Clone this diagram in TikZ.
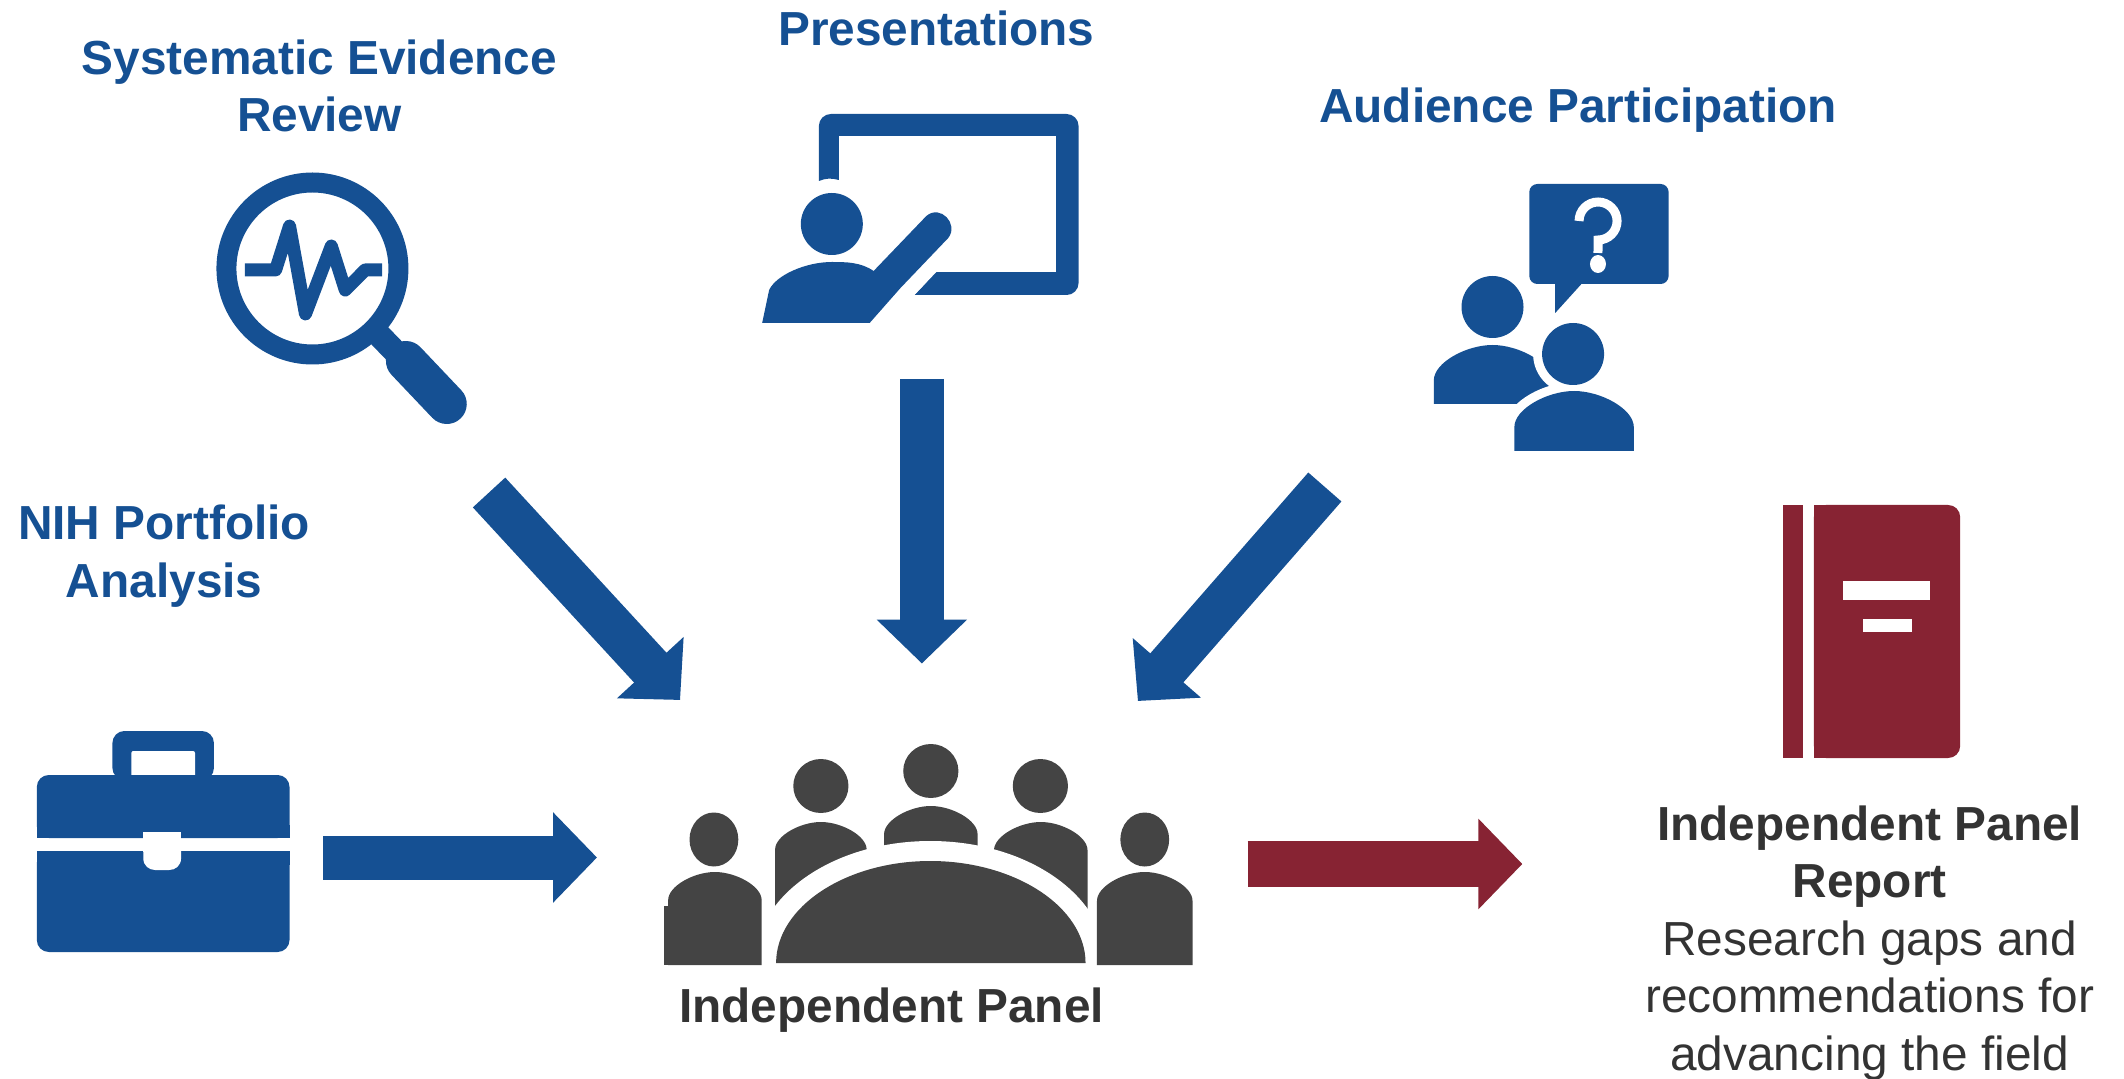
\documentclass[tikz,border=0pt]{standalone}
\usepackage{fontspec}
\setmainfont{Liberation Sans}
\usetikzlibrary{arrows.meta}
\definecolor{nihblue}{HTML}{155093}
\definecolor{nihred}{HTML}{872333}
\definecolor{panelgray}{HTML}{444444}
\definecolor{labelgray}{HTML}{333333}
\tikzset{
  lbl/.style={anchor=base,inner sep=0pt,outer sep=0pt,align=center,font=\bfseries\fontsize{23.9}{28.6}\selectfont},
  bluelbl/.style={lbl,text=nihblue},
  graylbl/.style={lbl,text=labelgray},
  bluearrow/.style={draw=nihblue,line width=22pt,-{Triangle[length=22pt,width=44pt,fill=nihblue]}},
  redarrow/.style={draw=nihred,line width=23pt,-{Triangle[length=22pt,width=44pt,fill=nihred]}},
}
% bust: centre x, top y, half width, bottom y
\newcommand\bust[4]{({#1-#3},#4) -- ({#1-#3},{#2+0.6*#3}) .. controls ({#1-#3},{#2+0.3*#3}) and ({#1-0.45*#3},#2) .. (#1,#2) .. controls ({#1+0.45*#3},#2) and ({#1+#3},{#2+0.3*#3}) .. ({#1+#3},{#2+0.6*#3}) -- ({#1+#3},#4) -- cycle}
\begin{document}
\begin{tikzpicture}[x=0.5pt,y=-0.5pt]
\useasboundingbox (0,0) rectangle (2124,1079);
\begin{scope}[x=0.4975pt]
% ---- magnifier
\fill[nihblue,even odd rule] (314,268.5) ellipse [x radius=48pt,y radius=48pt] (314,268.5) ellipse [x radius=38pt,y radius=38pt];
\draw[nihblue,line width=12pt] (378,332) -- (410,365);
\draw[nihblue,line width=20pt,line cap=round] (408,361) -- (449,404);
\draw[nihblue,line width=6.5pt,line join=round] (246,270) -- (277,270) -- (291,226) -- (307,314) -- (333,246) -- (347,290) -- (367,270) -- (384,270);
% ---- presenter
\fill[nihblue,rounded corners=6pt] (823,181) -- (823,114) -- (1084,114) -- (1084,295) -- (930,295) -- (930,272) -- (1061,272) [sharp corners] -- (1061,136) -- (843,136) -- (843,180) .. controls (836,178) and (830,178) .. (823,181) -- cycle;
\fill[nihblue] (919,295) -- (941,272) -- (960,272) -- (960,295) -- cycle;
\fill[white] (843,136) rectangle (1061,272);
\fill[white] (905,272) -- (941,272) -- (919,295) -- (900,295) -- cycle;
\fill[nihblue] (836,224) ellipse [x radius=15.5pt,y radius=15.5pt];
\fill[nihblue] (766,323) -- (874,323) -- (905,288) -- (953,238) .. controls (964,224) and (945,204) .. (931,216) -- (878,271) .. controls (865,262) and (850,262) .. (836,262) .. controls (810,262) and (780,275) .. (773,290) -- cycle;
% ---- audience
\fill[nihblue] (1500,307) ellipse [x radius=15.5pt,y radius=15.5pt];
\fill[nihblue] \bust{1500}{345}{59}{404};
\draw[white,line width=9pt] (1581,354) ellipse [x radius=15.5pt,y radius=15.5pt];
\draw[white,line width=9pt,fill=white] \bust{1582}{391}{60}{451};
\fill[nihblue] (1581,354) ellipse [x radius=15.5pt,y radius=15.5pt];
\fill[nihblue] \bust{1582}{391}{60}{451};
\fill[nihblue,rounded corners=4pt] (1537,184) -- (1677,184) -- (1677,284) -- (1537,284) -- cycle;
\fill[nihblue] (1563,280) -- (1563,313) -- (1593,280) -- cycle;
\draw[white,line width=4.5pt] (1587,221) arc [start angle=180,end angle=-90,radius=9.5pt] -- (1606,253);
\fill[white] (1606,264) ellipse [x radius=4pt,y radius=4.5pt];
% ---- briefcase
\fill[nihblue,rounded corners=6pt] (113,780) -- (113,731) -- (215,731) -- (215,780) -- cycle;
\fill[white,rounded corners=1pt] (132,780) -- (132,751) -- (196,751) -- (196,780) -- cycle;
\fill[nihblue,rounded corners=6pt] (37,838) -- (37,775) -- (291,775) -- (291,838) -- cycle;
\fill[nihblue] (37,825) rectangle (291,838);
\fill[nihblue,rounded corners=6pt] (37,851) -- (291,851) -- (291,952) -- (37,952) -- cycle;
\fill[nihblue] (37,851) rectangle (291,865);
\fill[white] (144,832) rectangle (182,852);
\fill[white] (144,850) -- (144,858) .. controls (144,866) and (150,870) .. (156,870) -- (170,870) .. controls (176,870) and (182,866) .. (182,858) -- (182,850) -- cycle;
% ---- panel
\fill[panelgray] (825,786) ellipse [x radius=13.8pt,y radius=13.5pt];
\fill[panelgray] (935.5,771) ellipse [x radius=13.8pt,y radius=13.5pt];
\fill[panelgray] (1045.6,786) ellipse [x radius=13.8pt,y radius=13.5pt];
\fill[panelgray] \bust{825}{822}{46}{960};
\fill[panelgray] \bust{935.5}{806}{47}{960};
\fill[panelgray] \bust{1046}{822}{47}{960};
\fill[white] (935,964) ellipse [x radius=88pt,y radius=61.5pt];
\fill[panelgray] (717.5,839.5) ellipse [x radius=12.2pt,y radius=13.5pt];
\fill[panelgray] (1150.5,839.5) ellipse [x radius=12.2pt,y radius=13.5pt];
\fill[panelgray] \bust{718.5}{872}{47}{965};
\fill[panelgray] (667,906) rectangle (680,965);
\fill[panelgray] \bust{1150.5}{872}{48}{965};
\fill[panelgray] (780,963) .. controls (780,907) and (850,861) .. (935,861) .. controls (1020,861) and (1091,907) .. (1091,963) -- cycle;
% ---- book
\fill[nihred] (1792,505) rectangle (1812,758);
\fill[nihred,rounded corners=6pt] (1823,758) -- (1970,758) -- (1970,505) -- (1823,505) -- cycle;
\fill[nihred] (1823,505) rectangle (1850,758);
\fill[white] (1852,581) rectangle (1940,600);
\fill[white] (1872,619) rectangle (1922,632);
% ---- labels
\node[bluelbl] (sysrev) at (321,131.5) {Systematic Evidence\\Review};
\node[bluelbl] (pres) at (941,46) {Presentations};
\node[bluelbl] (aud) at (1586,123) {Audience Participation};
\node[bluelbl] (nih) at (165,597) {NIH Portfolio\\Analysis};
\node[graylbl] (panel) at (896,1022) {Independent Panel};
\node[graylbl,font=\fontsize{23.9}{28.8}\selectfont] (report) at (1879,1070.5) {\textbf{Independent Panel}\\\textbf{Report}\\Research gaps and\\recommendations for\\advancing the field};
% ---- connectors
\coordinate (a1s) at (491.5,492.5); \coordinate (a1e) at (683.5,700);
\coordinate (a2s) at (926.5,379);   \coordinate (a2e) at (926.5,663.5);
\coordinate (a3s) at (1331.5,487);  \coordinate (a3e) at (1143.6,701);
\coordinate (a4s) at (325,857.5);   \coordinate (a4e) at (600,857.5);
\coordinate (a5s) at (1254,864);    \coordinate (a5e) at (1530,864);
\draw[bluearrow] (a1s) -- (a1e);
\draw[bluearrow] (a2s) -- (a2e);
\draw[bluearrow] (a3s) -- (a3e);
\draw[bluearrow] (a4s) -- (a4e);
\draw[redarrow] (a5s) -- (a5e);
\end{scope}
\end{tikzpicture}
\end{document}
